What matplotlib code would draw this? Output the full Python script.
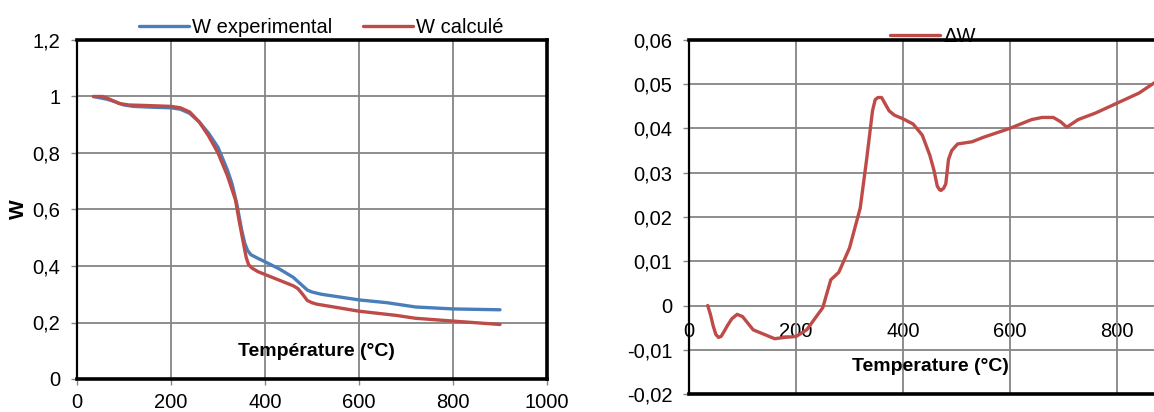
import matplotlib
matplotlib.use("Agg")
import matplotlib.pyplot as plt
from matplotlib.ticker import FuncFormatter, MultipleLocator

plt.rcParams['font.family'] = ['Liberation Sans', 'DejaVu Sans']

# --- données ---
T_exp = [35, 50, 65, 80, 100, 120, 160, 200, 220, 240, 260, 280, 300, 320, 330, 340,
         350, 357, 363, 370, 385, 400, 430, 460, 470, 480, 490, 500, 520, 600, 660,
         700, 720, 800, 900]
W_exp = [1.0, 0.995, 0.99, 0.982, 0.97, 0.965, 0.962, 0.96, 0.955, 0.94, 0.91, 0.87,
         0.82, 0.74, 0.69, 0.62, 0.53, 0.48, 0.455, 0.44, 0.427, 0.415, 0.39, 0.36,
         0.345, 0.33, 0.315, 0.308, 0.30, 0.28, 0.27, 0.26, 0.255, 0.248, 0.245]

T_calc = [35, 55, 70, 90, 110, 150, 200, 220, 240, 260, 280, 300, 320, 337, 345, 353,
          360, 365, 372, 385, 400, 430, 460, 470, 480, 490, 500, 510, 600, 680, 720,
          800, 900]
W_calc = [1.0, 1.0, 0.99, 0.975, 0.97, 0.968, 0.965, 0.96, 0.945, 0.91, 0.86, 0.80,
          0.72, 0.635, 0.56, 0.49, 0.43, 0.405, 0.393, 0.38, 0.37, 0.35, 0.33, 0.32,
          0.30, 0.278, 0.27, 0.265, 0.24, 0.225, 0.215, 0.205, 0.193]

T_dw = [35, 40, 45, 50, 55, 60, 65, 72, 80, 90, 100, 110, 120, 140, 160, 180, 200,
        220, 235, 250, 265, 280, 300, 320, 332, 343, 348, 353, 360, 367, 374, 384,
        400, 419, 436, 450, 458, 464, 468, 471, 476, 480, 485, 491, 502, 529, 550,
        599, 640, 660, 681, 695, 706, 715, 727, 760, 796, 841, 872, 900]
dW = [0.0, -0.002, -0.0045, -0.0065, -0.0072, -0.007, -0.006, -0.0045, -0.003,
      -0.002, -0.0025, -0.004, -0.0055, -0.0065, -0.0075, -0.0072, -0.007, -0.0055,
      -0.003, -0.0005, 0.0058, 0.0075, 0.013, 0.022, 0.033, 0.044, 0.0465, 0.047,
      0.047, 0.0455, 0.044, 0.043, 0.0422, 0.041, 0.0385, 0.034, 0.0305, 0.027,
      0.0262, 0.026, 0.0265, 0.0275, 0.033, 0.035, 0.0365, 0.037, 0.038, 0.040,
      0.042, 0.0425, 0.0425, 0.0415, 0.0403, 0.041, 0.042, 0.0435, 0.0455, 0.048,
      0.0505, 0.052]

bleu = '#4A7EBB'
rouge = '#BE4B48'
grille = '#858585'
fs = 14.5

virgule = FuncFormatter(lambda v, p: ('%g' % round(v, 4)).replace('.', ','))
style = dict(lw=2.4, solid_joinstyle='round', solid_capstyle='round')

fig = plt.figure(figsize=(11.54, 4.12), dpi=100)

# ---------- graphe de gauche ----------
ax1 = fig.add_axes([77 / 1154, 33 / 412, 470 / 1154, 339 / 412])
ax1.plot(T_exp, W_exp, color=bleu, label='W experimental', **style)
ax1.plot(T_calc, W_calc, color=rouge, label='W calculé', **style)
ax1.set_xlim(0, 1000)
ax1.set_ylim(0, 1.2)
ax1.xaxis.set_major_locator(MultipleLocator(200))
ax1.yaxis.set_major_locator(MultipleLocator(0.2))
ax1.yaxis.set_major_formatter(virgule)
ax1.grid(True, color=grille, lw=1.3)
ax1.set_axisbelow(True)
for s in ['top', 'right', 'bottom']:
    ax1.spines[s].set_linewidth(2.6)
ax1.spines['left'].set_linewidth(1.6)
ax1.tick_params(axis='both', labelsize=fs, length=4, width=1, color=grille)
ax1.tick_params(axis='y', pad=8)
ax1.tick_params(axis='x', pad=6)
ax1.text(0.51, 0.08, 'Température (°C)', transform=ax1.transAxes, ha='center',
         va='center', fontsize=14, fontweight='bold')
ax1.set_ylabel('W', fontsize=15, fontweight='bold')
ax1.yaxis.set_label_coords(-0.104, 0.5)
ax1.legend(loc='lower center', bbox_to_anchor=(0.52, 0.985), ncol=2, frameon=False,
           fontsize=fs, handlelength=2.5, handletextpad=0.15, columnspacing=1.5,
           borderaxespad=0)

# ---------- graphe de droite ----------
ax2 = fig.add_axes([689 / 1154, 18 / 412, 535 / 1154, 354 / 412])
ax2.plot(T_dw, dW, color=rouge, label='ΔW', **style)
ax2.set_xlim(0, 1000)
ax2.set_ylim(-0.02, 0.06)
ax2.xaxis.set_major_locator(MultipleLocator(200))
ax2.yaxis.set_major_locator(MultipleLocator(0.01))
ax2.yaxis.set_major_formatter(virgule)
ax2.grid(True, color=grille, lw=1.3)
ax2.set_axisbelow(True)
for s in ['top', 'bottom']:
    ax2.spines[s].set_linewidth(2.6)
ax2.spines['left'].set_linewidth(1.6)
ax2.tick_params(axis='y', labelsize=fs, length=4, width=1, color=grille, pad=8)
ax2.tick_params(axis='x', labelbottom=False, length=0)
sec = ax2.secondary_xaxis(0.25)
sec.set_xticks([0, 200, 400, 600, 800])
sec.spines['bottom'].set_visible(False)
sec.tick_params(length=0, labelsize=fs, pad=12)
ax2.text(0.452, 0.077, 'Temperature (°C)', transform=ax2.transAxes, ha='center',
         va='center', fontsize=14, fontweight='bold')
ax2.legend(loc='lower center', bbox_to_anchor=(0.456, 0.96), frameon=False,
           fontsize=fs, handlelength=2.5, handletextpad=0.15, borderaxespad=0)

fig.savefig('out.png', dpi=100)
